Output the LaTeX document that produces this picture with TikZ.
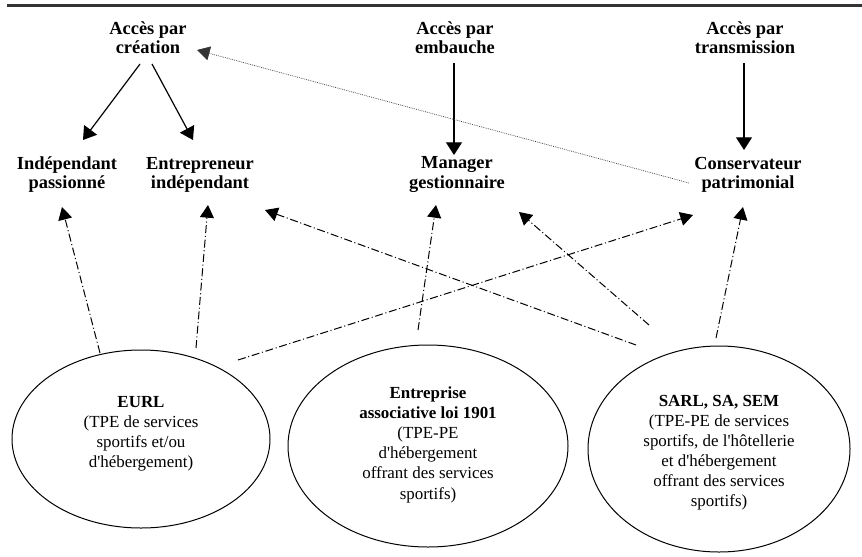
\documentclass[tikz,border=0pt]{standalone}
\usepackage{fontspec}
\setmainfont{Liberation Serif}
\usepackage{tikz}
\usetikzlibrary{calc,shapes.geometric,arrows.meta}
\newcommand{\ap}{\textquotesingle}

\tikzset{
  toplabel/.style={align=center, inner sep=0pt, font=\fontsize{13.8}{14.3}\selectfont\bfseries},
  ellipsebox/.style={draw, ellipse, inner sep=0pt, line width=0.75pt},
  ellipsetext/.style={align=center, inner sep=0pt, font=\fontsize{12.7}{15.1}\selectfont},
  plainarrow/.style={line width=0.9pt, -{Triangle[length=9.5pt,width=12pt]}},
  mixarrow/.style={line width=0.75pt, dash pattern=on 6pt off 2pt on 0.8pt off 2pt, -{Triangle[length=9.5pt,width=10.5pt]}},
  dotarrow/.style={line width=0.5pt, black!80, dash pattern=on 0.6pt off 0.8pt, -{Triangle[length=9.5pt,width=10.5pt]}}
}

\begin{document}
\begin{tikzpicture}[x=0.75pt, y=-0.75pt]
            \useasboundingbox (0,0) rectangle (862,556);
            \draw[line width=2.2pt, black!80] (7,5.5) -- (862,5.5);

            \node[toplabel] (creation) at (148,38) {Accès par\\création};
            \node[toplabel] (embauche) at (455,38) {Accès par\\embauche};
            \node[toplabel] (transmission) at (745,38) {Accès par\\transmission};

            \node[toplabel] (indep) at (67,174.5) {Indépendant\\passionné};
            \node[toplabel] (entre) at (200,174.5) {Entrepreneur\\indépendant};
            \node[toplabel] (manager) at (457,174.5) {Manager\\gestionnaire};
            \node[toplabel] (conserv) at (748,174.5) {Conservateur\\patrimonial};

            \node[ellipsebox, minimum width=193.5pt, minimum height=133.5pt] (eurl) at (141,439) {};
            \node[ellipsebox, minimum width=210pt, minimum height=151.5pt] (asso) at (428,446) {};
            \node[ellipsebox, minimum width=196.5pt, minimum height=154.5pt] (sarl) at (719,449) {};

            \node[ellipsetext] (eurltext) at (141,433.5) {\textbf{EURL}\\(TPE de services\\sportifs et/ou\\d\ap hébergement)};
            \node[ellipsetext] (assotext) at (428,444.6) {\textbf{Entreprise}\\\textbf{associative loi 1901}\\(TPE-PE\\d\ap hébergement\\offrant des services\\sportifs)};
            \node[ellipsetext] (sarltext) at (719,452.6) {\textbf{SARL, SA, SEM}\\(TPE-PE de services\\sportifs, de l\ap hôtellerie\\et d\ap hébergement\\offrant des services\\sportifs)};

            \draw[plainarrow] ($(creation)+(-8,26)$) -- ($(indep)+(16,-34.5)$);
            \draw[plainarrow] ($(creation)+(4,26)$) -- ($(entre)+(-7,-34.5)$);
            \draw[plainarrow] ($(embauche)+(-1,25)$) -- ($(manager)+(-3,-19.5)$);
            \draw[plainarrow] ($(transmission)+(-1,25)$) -- ($(conserv)+(-4,-24.5)$);
            \draw[dotarrow] ($(conserv)+(-59,8.5)$) -- ($(creation)+(49,12)$);

            \draw[mixarrow] ($(eurl)+(-41,-86)$) -- ($(indep)+(-5,32.5)$);
            \draw[mixarrow] ($(eurl)+(55,-91)$) -- ($(entre)+(8,30.5)$);
            \draw[mixarrow] ($(eurl)+(97,-79)$) -- ($(conserv)+(-55,40.5)$);
            \draw[mixarrow] ($(asso)+(-10,-116)$) -- ($(manager)+(-21,30.5)$);
            \draw[mixarrow] ($(sarl)+(-83,-104)$) -- ($(entre)+(65,35.5)$);
            \draw[mixarrow] ($(sarl)+(-70,-124)$) -- ($(manager)+(62,37.5)$);
            \draw[mixarrow] ($(sarl)+(-3,-111)$) -- ($(conserv)+(-5,32.5)$);
        \end{tikzpicture}
\end{document}
